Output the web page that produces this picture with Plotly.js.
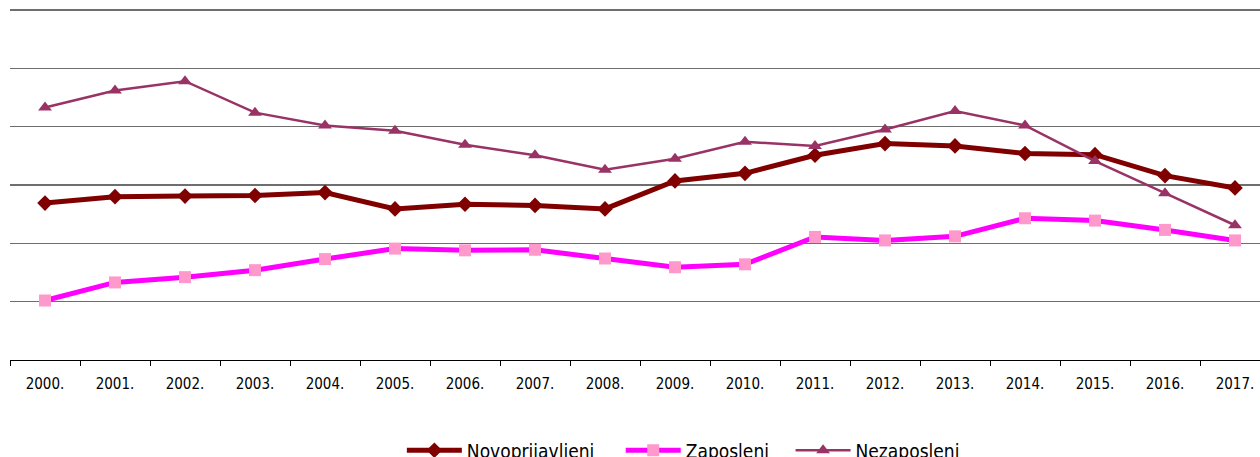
<!DOCTYPE html>
<html>
<head>
<meta charset="utf-8">
<script src="https://cdn.plot.ly/plotly-3.0.1.min.js"></script>
<style>
html, body { margin: 0; padding: 0; overflow: hidden; background: #fff; }
#chart { width: 1270px; height: 475px; }
</style>
</head>
<body>
<div id="chart"></div>
<script>
const years = ["2000.","2001.","2002.","2003.","2004.","2005.","2006.","2007.","2008.","2009.","2010.","2011.","2012.","2013.","2014.","2015.","2016.","2017."];
const novoprijavljeni = [26900,28000,28100,28200,28700,25900,26700,26500,25900,30700,32000,35100,37100,36700,35400,35200,31600,29500];
const zaposleni = [10200,13300,14200,15400,17300,19100,18800,18900,17400,15900,16400,21100,20500,21200,24300,23900,22300,20500];
const nezaposleni = [43300,46200,47800,42400,40200,39300,36900,35100,32600,34500,37400,36700,39500,42700,40200,34100,28600,23100];

const font = "'DejaVu Sans Condensed', 'DejaVu Sans', sans-serif";

const traces = [
  {
    x: years, y: novoprijavljeni, name: "Novoprijavljeni", type: "scatter", mode: "lines+markers",
    line: { color: "#800000", width: 5 },
    marker: { symbol: "diamond", size: 12, color: "#800000" },
    legend: "legend"
  },
  {
    x: years, y: zaposleni, name: "Zaposleni", type: "scatter", mode: "lines+markers",
    line: { color: "#FF00FF", width: 5 },
    marker: { symbol: "square", size: 12, color: "#FF99CC" },
    legend: "legend2"
  },
  {
    x: years, y: nezaposleni, name: "Nezaposleni", type: "scatter", mode: "lines+markers",
    line: { color: "#993366", width: 2.5 },
    marker: { symbol: "triangle-up", size: 12, color: "#993366" },
    legend: "legend3"
  }
];

function leg(x) {
  return {
    orientation: "h", x: x, xanchor: "left", y: -0.203, yanchor: "top",
    font: { family: font, size: 19, color: "#000" },
    itemwidth: 55, bgcolor: "rgba(0,0,0,0)"
  };
}

const layout = {
  width: 1270, height: 475,
  margin: { l: 10, r: 0, t: 8, b: 115 },
  paper_bgcolor: "#fff", plot_bgcolor: "#fff",
  font: { family: font, color: "#000" },
  showlegend: true,
  legend: leg(0.311),
  legend2: leg(0.4847),
  legend3: leg(0.6195),
  xaxis: {
    type: "category", showgrid: false, zeroline: false,
    showline: true, linecolor: "#000", linewidth: 1,
    ticks: "outside", tickson: "boundaries", ticklen: 5, tickcolor: "#000", tickwidth: 1,
    ticklabelstandoff: 10,
    tickfont: { family: font, size: 15, color: "#000" },
    range: [-0.5, 17.5], fixedrange: true
  },
  yaxis: {
    range: [0, 60343], tickvals: [10000, 20000, 30000, 40000, 50000, 60000],
    showgrid: true, gridcolor: "#6e6e6e", gridwidth: 1.3,
    zeroline: false, showticklabels: false, ticks: "", showline: false, fixedrange: true
  }
};

Plotly.newPlot("chart", traces, layout, { displayModeBar: false, staticPlot: true });
</script>
</body>
</html>
